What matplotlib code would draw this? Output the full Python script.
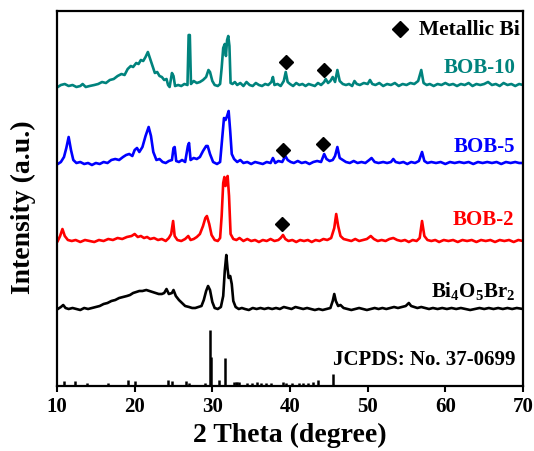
import numpy as np
import matplotlib
matplotlib.use('Agg')
import matplotlib.pyplot as plt

plt.rcParams['font.family'] = ['Liberation Serif', 'DejaVu Serif']
plt.rcParams['font.weight'] = 'bold'
plt.rcParams['mathtext.fontset'] = 'custom'
plt.rcParams['mathtext.rm'] = 'Liberation Serif:bold'
plt.rcParams['mathtext.bf'] = 'Liberation Serif:bold'

# 2 theta (deg), intensity (stacked, arbitrary units)
bob10 = [(10.1,299),(10.5,301),(11.0,302),(11.5,300),(12.0,301),(12.5,299),(13.0,300),(13.3,302),
         (13.7,299),(14.2,300),(14.8,301),(15.3,302),(15.8,304),(16.3,303),(16.8,306),(17.3,307),
         (17.8,310),(18.3,312),(18.7,311),(19.1,317),(19.5,320),(19.8,319),(20.2,323),(20.5,322),
         (20.8,326),(21.1,325),(21.4,329),(21.7,334),(22.0,327),(22.3,320),(22.6,313),(22.9,314),
         (23.2,310),(23.5,309),(23.8,306),(24.1,307),(24.3,301),(24.5,299),(24.8,313),(25.0,310),
         (25.2,300),(25.6,301),(26.0,300),(26.4,302),(26.8,301),(26.95,351),(27.1,351),(27.25,302),
         (27.6,305),(28.0,303),(28.4,304),(28.8,306),(29.2,309),(29.5,316),(29.7,314),(30.0,305),
         (30.3,301),(30.7,300),(31.0,302),(31.2,318),(31.4,338),(31.6,342),(31.75,330),(31.9,346),
         (32.05,350),(32.2,340),(32.35,303),(32.6,302),(32.9,304),(33.2,301),(33.6,303),(34.0,300),
         (34.4,304),(34.8,301),(35.2,300),(35.6,303),(36.0,301),(36.4,300),(36.8,302),(37.2,301),
         (37.6,304),(37.8,309),(38.0,301),(38.4,302),(38.8,300),(39.2,305),(39.45,314),(39.7,304),
         (40.0,302),(40.4,300),(40.8,303),(41.2,301),(41.6,302),(42.0,300),(42.4,302),(42.8,301),
         (43.2,300),(43.6,303),(44.0,301),(44.4,304),(44.6,307),(44.9,303),(45.2,305),(45.5,309),
         (45.8,304),(46.1,316),(46.4,305),(46.8,302),(47.2,301),(47.6,302),(48.0,300),(48.3,305),
         (48.6,302),(49.0,301),(49.5,303),(50.0,302),(50.3,306),(50.6,302),(51.0,301),(51.5,303),
         (52.0,300),(52.5,302),(53.0,301),(53.5,303),(54.0,300),(54.5,302),(55.0,301),(55.5,303),
         (56.0,302),(56.5,305),(56.9,316),(57.2,303),(57.6,301),(58.0,302),(58.5,300),(59.0,302),
         (59.5,301),(60.0,303),(60.5,301),(61.0,302),(61.5,300),(62.0,302),(62.5,301),(63.0,303),
         (63.5,300),(64.0,302),(64.5,301),(65.0,302),(65.5,304),(66.0,301),(66.5,302),(67.0,300),
         (67.5,303),(68.0,301),(68.5,302),(69.0,300),(69.5,302),(70.0,301)]

bob5 = [(10.1,222),(10.5,224),(10.9,229),(11.2,238),(11.5,249),(11.8,236),(12.1,226),(12.5,223),
        (13.0,224),(13.5,222),(14.0,223),(14.5,221),(15.0,223),(15.5,222),(16.0,224),(16.5,223),
        (17.0,226),(17.5,227),(18.0,226),(18.5,229),(18.9,231),(19.3,232),(19.7,230),(20.0,236),
        (20.3,238),(20.6,234),(21.0,239),(21.4,250),(21.8,259),(22.1,250),(22.4,234),(22.8,226),
        (23.2,227),(23.6,224),(24.0,223),(24.4,225),(24.8,226),(25.0,238),(25.15,239),(25.35,225),
        (25.7,224),(26.1,226),(26.5,224),(26.85,240),(27.0,243),(27.2,226),(27.6,228),(28.0,227),
        (28.4,229),(28.8,235),(29.2,240),(29.4,240),(29.7,232),(30.1,224),(30.6,222),(31.0,224),
        (31.3,250),(31.5,268),(31.7,266),(31.9,270),(32.1,275),(32.3,255),(32.5,232),(32.8,227),
        (33.2,224),(33.6,226),(34.0,223),(34.5,224),(35.0,222),(35.5,224),(36.0,223),(36.5,222),
        (37.0,224),(37.5,223),(37.8,228),(38.1,223),(38.5,225),(39.0,224),(39.4,230),(39.7,226),
        (40.1,224),(40.5,223),(41.0,225),(41.5,223),(42.0,224),(42.5,222),(43.0,224),(43.5,225),
        (44.0,224),(44.4,232),(44.7,227),(45.1,225),(45.5,226),(45.8,230),(46.1,239),(46.4,228),
        (46.8,226),(47.2,224),(47.7,223),(48.2,225),(48.7,223),(49.2,224),(49.7,223),(50.2,226),
        (50.5,228),(50.9,224),(51.4,223),(52.0,224),(52.5,223),(53.0,224),(53.3,227),(53.6,224),
        (54.1,223),(54.6,224),(55.1,222),(55.6,224),(56.1,223),(56.6,225),(57.0,234),(57.3,225),
        (57.7,223),(58.2,224),(58.8,223),(59.4,224),(60.0,222),(60.6,224),(61.2,223),(61.8,224),
        (62.4,223),(63.0,224),(63.6,222),(64.2,224),(64.8,223),(65.4,224),(66.0,223),(66.6,224),
        (67.2,222),(67.8,224),(68.4,223),(69.0,224),(69.5,223),(70.0,223)]

bob2 = [(10.1,145),(10.4,150),(10.7,157),(11.0,150),(11.4,146),(11.9,145),(12.4,146),(13.0,144),
        (13.6,146),(14.2,145),(14.8,144),(15.4,146),(16.0,145),(16.6,147),(17.2,146),(17.8,148),
        (18.4,147),(19.0,149),(19.6,150),(20.0,152),(20.4,149),(20.8,150),(21.2,148),(21.6,149),
        (22.0,147),(22.5,148),(23.0,146),(23.5,147),(24.0,145),(24.4,148),(24.7,152),(24.95,165),
        (25.15,150),(25.5,146),(26.0,145),(26.5,147),(26.9,150),(27.2,146),(27.6,147),(28.0,149),
        (28.4,152),(28.8,160),(29.1,168),(29.3,170),(29.6,162),(29.9,151),(30.3,146),(30.7,145),
        (31.0,148),(31.2,170),(31.4,203),(31.55,209),(31.7,200),(31.85,206),(31.97,210),(32.15,190),
        (32.35,152),(32.7,147),(33.1,146),(33.5,148),(34.0,145),(34.5,147),(35.0,145),(35.5,146),
        (36.0,144),(36.5,146),(37.0,145),(37.5,147),(38.0,145),(38.5,146),(38.8,148),(39.1,151),
        (39.4,147),(39.8,145),(40.3,146),(40.8,144),(41.3,146),(41.8,145),(42.3,146),(42.8,144),
        (43.3,146),(43.8,145),(44.3,147),(44.8,146),(45.3,148),(45.7,158),(45.95,172),(46.2,160),
        (46.5,150),(46.9,147),(47.4,146),(47.9,145),(48.4,147),(48.9,145),(49.4,146),(49.9,147),
        (50.4,150),(50.8,147),(51.3,145),(51.8,146),(52.3,145),(52.8,147),(53.3,148),(53.8,146),
        (54.3,145),(54.8,146),(55.3,144),(55.8,146),(56.3,145),(56.7,148),(57.0,165),(57.3,150),
        (57.7,146),(58.2,145),(58.7,146),(59.2,144),(59.8,146),(60.4,145),(61.0,146),(61.6,144),
        (62.2,146),(62.8,145),(63.4,146),(64.0,144),(64.6,146),(65.2,145),(65.8,146),(66.4,144),
        (67.0,146),(67.6,145),(68.2,146),(68.8,144),(69.4,146),(70.0,145)]

bi4o5br2 = [(10.1,77),(10.5,79),(10.8,81),(11.1,78),(11.5,77),(12.0,78),(12.5,77),(13.0,76),
            (13.5,78),(14.0,77),(14.5,78),(15.0,79),(15.5,80),(16.0,82),(16.5,83),(17.0,85),
            (17.5,86),(18.0,88),(18.5,89),(19.0,90),(19.4,91),(19.8,93),(20.2,94),(20.6,95),
            (21.0,95),(21.5,96),(21.9,95),(22.3,94),(22.7,93),(23.1,92),(23.5,92),(23.8,93),
            (24.1,97),(24.4,92),(24.8,93),(25.0,96),(25.3,90),(25.7,86),(26.1,83),(26.5,80),
            (27.0,79),(27.4,78),(27.8,78),(28.2,79),(28.6,80),(28.9,86),(29.2,95),(29.45,100),
            (29.7,96),(30.0,84),(30.3,78),(30.7,77),(31.1,79),(31.4,90),(31.6,115),(31.8,131),
            (31.95,118),(32.1,108),(32.3,110),(32.5,102),(32.7,85),(33.0,79),(33.4,77),(33.8,78),
            (34.2,77),(34.7,76),(35.2,78),(35.7,77),(36.2,78),(36.7,77),(37.2,78),(37.7,77),
            (38.2,78),(38.7,77),(39.2,79),(39.7,78),(40.2,77),(40.7,79),(41.2,78),(41.7,77),
            (42.2,78),(42.7,77),(43.2,76),(43.7,77),(44.2,76),(44.7,77),(45.2,78),(45.5,85),
            (45.7,92),(45.9,85),(46.2,80),(46.5,81),(46.9,78),(47.4,77),(47.9,76),(48.4,77),
            (48.9,78),(49.4,77),(49.9,76),(50.4,77),(50.9,78),(51.4,77),(51.9,78),(52.4,77),
            (52.9,78),(53.4,79),(53.9,78),(54.4,79),(54.9,80),(55.3,83),(55.6,80),(56.0,79),
            (56.4,78),(56.9,79),(57.4,78),(57.9,77),(58.4,78),(59.0,77),(59.6,78),(60.2,77),
            (60.8,78),(61.4,77),(62.0,78),(62.6,77),(63.2,76),(63.8,77),(64.4,78),(65.0,77),
            (65.6,78),(66.2,77),(66.8,78),(67.4,77),(68.0,78),(68.6,77),(69.2,78),(70.0,77)]

# JCPDS 37-0699 reference lines
jcpds_pos = [10.9, 12.3, 13.9, 16.6, 19.2, 20.0, 24.3, 24.8, 26.6, 27.0, 29.0, 29.65, 29.8,
             30.9, 31.65, 32.8, 33.0, 33.2, 33.4, 34.5, 35.1, 35.7, 36.3, 36.9, 37.5, 39.1,
             39.5, 40.3, 41.1, 41.7, 42.3, 42.9, 43.6, 45.5]
jcpds_int = [5, 5, 3, 3, 6, 5, 6, 5, 5, 3, 3, 56, 29, 6, 28, 4, 4, 4, 4, 3, 3, 4, 3, 3, 3,
             4, 3, 3, 3, 3, 3, 4, 6, 12]

# metallic Bi marks
bi_x = [39.5, 44.4, 39.1, 44.3, 38.95]
bi_y = [324, 316, 236, 242, 162]

fig = plt.figure(figsize=(5.34, 4.52), dpi=100)
ax = fig.add_axes([57/534, 65/452, 466/534, 375/452])

lw = 1.9
for data, col in [(bob10, '#00837D'), (bob5, '#0000FF'), (bob2, '#FF0000'), (bi4o5br2, 'black')]:
    x, y = np.array(data).T
    ax.plot(x, y, color=col, lw=lw)

ax.vlines(jcpds_pos, 0, jcpds_int, color='black', lw=1.8)
ax.plot(bi_x, bi_y, 'D', color='black', ms=7, ls='none')

ax.plot([54.2], [357], 'D', color='black', ms=8.5)
ax.text(56.6, 357, 'Metallic Bi', fontsize=15.5, fontweight='bold', va='center', ha='left', clip_on=True)

ax.text(69.1, 319, 'BOB-10', color='#00837D', fontsize=15, fontweight='bold', ha='right', va='center')
ax.text(69.0, 240, 'BOB-5', color='#0000FF', fontsize=15, fontweight='bold', ha='right', va='center')
ax.text(68.8, 167, 'BOB-2', color='#FF0000', fontsize=15, fontweight='bold', ha='right', va='center')
ax.text(69.0, 95, r'Bi$_4$O$_5$Br$_2$', color='black', fontsize=15, fontweight='bold', ha='right', va='center')
ax.text(69.0, 27, 'JCPDS: No. 37-0699', color='black', fontsize=15, fontweight='bold', ha='right', va='center')

ax.set_xlim(10, 70)
ax.set_ylim(0, 375)
ax.set_xticks([10, 20, 30, 40, 50, 60, 70])
ax.set_yticks([])
ax.tick_params(axis='x', direction='out', length=4.5, width=1.5, labelsize=15, pad=3)
for s in ax.spines.values():
    s.set_linewidth(1.6)

ax.set_xlabel('2 Theta (degree)', fontsize=20, fontweight='bold')
ax.set_ylabel('Intensity (a.u.)', fontsize=20, fontweight='bold')
ax.xaxis.set_label_coords(0.5, -0.095)
ax.yaxis.set_label_coords(-0.045, 0.48)

fig.savefig('out.png', dpi=100)
